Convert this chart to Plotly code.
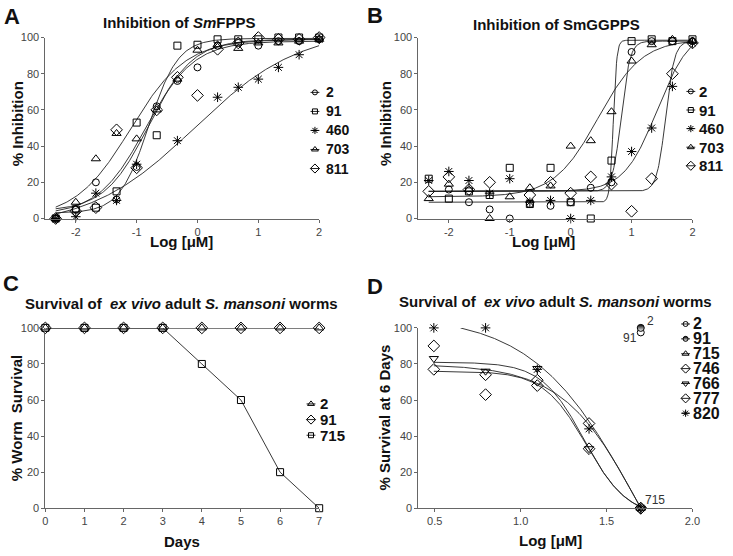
import numpy as np
import plotly.graph_objects as go

W, H = 733, 556
FONT = "Liberation Sans, Arial, sans-serif"

# ---------------- Panel A : Inhibition of SmFPPS ----------------
A_logconc = [-2.33, -2.0, -1.67, -1.33, -1.0, -0.67, -0.33, 0.0, 0.33, 0.67, 1.0, 1.33, 1.67, 2.0]
A_names = ["2", "91", "460", "703", "811"]
A_2 = [0, 5, 20, 10.5, 28.5, 62, 76, 83.5, 95.5, 97, 95.5, 98, 98, 99]
A_91 = [0, 5, 6, 15, 53, 46, 95.5, 96, 99, 99, 99, 100, 100, 100]
A_460 = [0, 1, 14, 10, 30, None, 43, None, 67, 72.5, 77, 83.5, 90.5, 99]
A_703 = [0, 9, 33, 47, 44, 60, 77, 93, 96, 94, 97, 97, 98, 99]
A_811 = [0, 4, 6, 49, 28, 60, 78, 68, 93.5, 97, 100, 99, 99, 100]
A_fit_bottom = [2, 3, -5, 0, 4]
A_fit_top = [98, 99.5, 105, 99, 99]
A_fit_logec50 = [-0.85, -0.8, -0.05, -1.1, -0.8]
A_fit_hill = [1.1, 1.8, 0.5, 0.95, 1.2]

# ---------------- Panel B : Inhibition of SmGGPPS ----------------
B_logconc = A_logconc
B_names = ["2", "91", "460", "703", "811"]
B_2 = [None, 16, 9, 5, 0, 8, 7, 9, 17, 20, 92, 98, 98, 98]
B_91 = [22, 11, 15, 13, 28, 8, 28, 9, 0, 32, 98, 99, 98, 99]
B_460 = [21, 26, 21, 14, 22, 9, 10, 0, 10, 23, 37, 50, 73, 97]
B_703 = [11, 19, 16, 0, 12, 17, 18, 40, 43, 59, 87, 96, 99, 98]
B_811 = [15, 23, 16, 20, None, 13, 20, 14, 23, 19, 4, 22, 80, 97]
B_fit_bottom = [15, 9, 15, 12, 15]
B_fit_top = [98, 98.5, 105, 99, 98]
B_fit_logec50 = [0.83, 0.7, 1.42, 0.45, 1.56]
B_fit_hill = [6, 15, 1.6, 1.2, 6]

# ---------------- Panel C : survival over days ----------------
C_days = [0, 1, 2, 3, 4, 5, 6, 7]
C_names = ["2", "91", "715"]
C_2 = [100, 100, 100, 100, 100, 100, 100, 100]
C_91 = [100, 100, 100, 100, 100, 100, 100, 100]
C_715 = [100, 100, 100, 100, 80, 60, 20, 0]

# ---------------- Panel D : survival at 6 days ----------------
D_logconc = [0.495, 0.796, 1.097, 1.398, 1.699]
D_names = ["2", "91", "715", "746", "766", "777", "820"]
D_2 = [None, None, None, None, 97.5]
D_91 = [None, None, None, None, 100]
D_715 = [None, None, None, None, 0]
D_746 = [90, 63, 71, 47, 0]
D_766 = [83, 76, 77.5, 33, 0]
D_777 = [77, 74, 68, 33, 0]
D_820 = [100, 100, 77, 44, 0]
D_fit_names = ["746", "766", "777", "820"]
D_fit_bottom = [-79.8, -5, -5, -107]
D_fit_top = [79.8, 81, 76, 107]
D_fit_logec50 = [1.7, 1.37, 1.38, 1.7]
D_fit_hill = [-1.91, -3.5, -3.5, -1.4]
D_fit_start = [0.495, 0.495, 0.495, 0.65]

# ---------------- styles ----------------
SYM_AB = {"2": "circle-open", "91": "square-open", "460": "asterisk-open",
          "703": "triangle-up-open", "811": "diamond-open"}
SYM_C = {"2": "triangle-up-open", "91": "diamond-open", "715": "square-open"}
SYM_D = {"2": "circle-open", "91": "circle", "715": "triangle-up-open",
         "746": "diamond-open", "766": "triangle-down-open", "777": "diamond-open",
         "820": "asterisk-open"}
SIZE = {"circle-open": 7, "circle": 7, "square-open": 7, "asterisk-open": 8,
        "triangle-up-open": 8, "triangle-down-open": 8, "diamond-open": 9}
LINE_COL = "#222"
AX_COL = "#666"


def marker_for(sym, size=None):
    m = dict(symbol=sym, size=size or SIZE[sym], color="black",
             line=dict(color="black", width=1))
    if sym == "circle":
        m["gradient"] = dict(type="vertical", color="white")
    return m


def logistic(x, bottom, top, logec50, hill):
    return bottom + (top - bottom) / (1 + 10 ** ((logec50 - x) * hill))


fig = go.Figure()

# Panel A
A_series = [A_2, A_91, A_460, A_703, A_811]
xa = np.linspace(A_logconc[0], A_logconc[-1], 300)
for i, name in enumerate(A_names):
    fig.add_trace(go.Scatter(x=xa, y=logistic(xa, A_fit_bottom[i], A_fit_top[i], A_fit_logec50[i], A_fit_hill[i]),
                             mode="lines", line=dict(color=LINE_COL, width=0.9),
                             xaxis="x", yaxis="y", showlegend=False, hoverinfo="skip"))
for i, name in enumerate(A_names):
    fig.add_trace(go.Scatter(x=A_logconc, y=A_series[i], mode="markers", marker=marker_for(SYM_AB[name]),
                             xaxis="x", yaxis="y", showlegend=False, cliponaxis=False, name=name))

# Panel B
B_series = [B_2, B_91, B_460, B_703, B_811]
xb = np.linspace(B_logconc[0], B_logconc[-1], 400)
for i, name in enumerate(B_names):
    fig.add_trace(go.Scatter(x=xb, y=logistic(xb, B_fit_bottom[i], B_fit_top[i], B_fit_logec50[i], B_fit_hill[i]),
                             mode="lines", line=dict(color=LINE_COL, width=0.9),
                             xaxis="x2", yaxis="y2", showlegend=False, hoverinfo="skip"))
for i, name in enumerate(B_names):
    fig.add_trace(go.Scatter(x=B_logconc, y=B_series[i], mode="markers", marker=marker_for(SYM_AB[name]),
                             xaxis="x2", yaxis="y2", showlegend=False, cliponaxis=False, name=name))

# Panel C
C_series = [C_2, C_91, C_715]
for i, name in enumerate(C_names):
    fig.add_trace(go.Scatter(x=C_days, y=C_series[i], mode="lines+markers",
                             line=dict(color=LINE_COL, width=0.9), marker=marker_for(SYM_C[name]),
                             xaxis="x3", yaxis="y3", showlegend=False, cliponaxis=False, name=name))

# Panel D
for i, name in enumerate(D_fit_names):
    xd = np.linspace(D_fit_start[i], D_logconc[-1], 300)
    fig.add_trace(go.Scatter(x=xd, y=logistic(xd, D_fit_bottom[i], D_fit_top[i], D_fit_logec50[i], D_fit_hill[i]),
                             mode="lines", line=dict(color=LINE_COL, width=0.9),
                             xaxis="x4", yaxis="y4", showlegend=False, hoverinfo="skip"))
D_series = [D_2, D_91, D_715, D_746, D_766, D_777, D_820]
for i, name in enumerate(D_names):
    fig.add_trace(go.Scatter(x=D_logconc, y=D_series[i], mode="markers", marker=marker_for(SYM_D[name]),
                             xaxis="x4", yaxis="y4", showlegend=False, cliponaxis=False, name=name))

# ---------------- legend keys (pixel overlay) ----------------
LEGENDS = [
    # names, symbols, symbol x, text x, first row y, row spacing, font size
    (A_names, SYM_AB, 316.7, 325.5, 88.3, 19.45, 14),
    (B_names, SYM_AB, 698.3, 704.5, 87.3, 19.0, 15),
    (C_names, SYM_C, 312.7, 319.5, 406.7, 16.0, 15),
    (D_names, SYM_D, 693.0, 698.5, 325.0, 15.2, 16),
]
annotations = []
for names, syms, sx, tx, y0, dy, fs in LEGENDS:
    for j, name in enumerate(names):
        sy = y0 + j * dy
        sym = syms[name]
        mk = marker_for(sym, size=max(SIZE[sym] - 2, 5))
        mk["opacity"] = [0, 1, 0]
        fig.add_trace(go.Scatter(x=[sx - 4.5, sx, sx + 4.5], y=[sy, sy, sy], mode="lines+markers",
                                 line=dict(color=LINE_COL, width=1), marker=mk,
                                 xaxis="x5", yaxis="y5", showlegend=False, hoverinfo="skip"))
        annotations.append(dict(text="<b>%s</b>" % name, x=tx / W, y=1 - sy / H, xref="paper", yref="paper",
                                xanchor="left", yanchor="middle", showarrow=False,
                                font=dict(family=FONT, size=fs, color="#111")))


def px(x, y):
    return x / W, 1 - y / H


def add_text(text, x, y, size, angle=0, color="#111", xanchor="center"):
    xx, yy = px(x, y)
    annotations.append(dict(text=text, x=xx, y=yy, xref="paper", yref="paper", xanchor=xanchor,
                            yanchor="middle", showarrow=False, textangle=angle,
                            font=dict(family=FONT, size=size, color=color)))


# panel letters
add_text("<b>A</b>", 9, 11, 22)
add_text("<b>B</b>", 377.5, 9.5, 22)
add_text("<b>C</b>", 8.5, 283.5, 22)
add_text("<b>D</b>", 377.5, 287, 22)
# titles
add_text("<b>Inhibition of <i>Sm</i>FPPS</b>", 179, 17, 15)
add_text("<b>Inhibition of SmGGPPS</b>", 561.5, 19, 15)
add_text("<b>Survival of  <i>ex vivo</i> adult <i>S. mansoni</i> worms</b>", 181.7, 304, 15)
add_text("<b>Survival of  <i>ex vivo</i> adult <i>S. mansoni</i> worms</b>", 561, 302.5, 15)
# axis titles
add_text("<b>Log [μM]</b>", 181, 241, 15)
add_text("<b>Log [μM]</b>", 549, 241, 15)
add_text("<b>Days</b>", 182, 547, 15)
add_text("<b>Log [μM]</b>", 556, 546, 15)
add_text("<b>% Inhibition</b>", 15, 120, 15, angle=-90)
add_text("<b>% Inhibition</b>", 388.5, 120, 15, angle=-90)
add_text("<b>% Worm  Survival</b>", 14.5, 421, 15, angle=-90)
add_text("<b>% Survival at 6 Days</b>", 387.5, 421, 15, angle=-90)

# point labels in panel D
annotations.append(dict(text="2", x=D_logconc[4], y=D_91[4], xref="x4", yref="y4", xanchor="left",
                        yanchor="middle", xshift=4, yshift=7, showarrow=False,
                        font=dict(family=FONT, size=12, color="#333")))
annotations.append(dict(text="91", x=D_logconc[4], y=D_2[4], xref="x4", yref="y4", xanchor="right",
                        yanchor="middle", xshift=-2, yshift=-6, showarrow=False,
                        font=dict(family=FONT, size=12, color="#333")))
annotations.append(dict(text="715", x=D_logconc[4], y=D_715[4], xref="x4", yref="y4", xanchor="left",
                        yanchor="middle", xshift=2, yshift=8, showarrow=False,
                        font=dict(family=FONT, size=12, color="#333")))


def axis(domain, rng, tickvals, ticktext=None, anchor=None):
    d = dict(domain=domain, range=rng, tickvals=tickvals, showline=True, linecolor=AX_COL, linewidth=1,
             ticks="outside", ticklen=3, tickwidth=1, tickcolor=AX_COL, showgrid=False, zeroline=False,
             tickfont=dict(family=FONT, size=11, color="#444"), anchor=anchor, fixedrange=True)
    if ticktext is not None:
        d["ticktext"] = ticktext
    return d


xA = [43 / W, 321 / W]
xB = [421.7 / W, 700 / W]
yTop = [1 - 217.2 / H, 1 - 32.2 / H]
yBot = [1 - 513.3 / H, 1 - 329 / H]
x_ticks_AB = [-2, -1, 0, 1, 2]
y_ticks = [0, 20, 40, 60, 80, 100]

fig.update_layout(
    width=W, height=H, margin=dict(l=0, r=0, t=0, b=0), autosize=False,
    paper_bgcolor="white", plot_bgcolor="rgba(0,0,0,0)", showlegend=False,
    font=dict(family=FONT),
    xaxis=axis(xA, [-2.5, 2], x_ticks_AB, [str(v) for v in x_ticks_AB], "y"),
    yaxis=axis(yTop, [0, 100], y_ticks, anchor="x"),
    xaxis2=axis(xB, [-2.5, 2], x_ticks_AB, [str(v) for v in x_ticks_AB], "y2"),
    yaxis2=axis(yTop, [0, 100], y_ticks, anchor="x2"),
    xaxis3=axis(xA, [0, 7], C_days, anchor="y3"),
    yaxis3=axis(yBot, [0, 100], y_ticks, anchor="x3"),
    xaxis4=axis(xB, [0.405, 2.0], [0.5, 1.0, 1.5, 2.0], ["0.5", "1.0", "1.5", "2.0"], "y4"),
    yaxis4=axis(yBot, [0, 100], y_ticks, anchor="x4"),
    xaxis5=dict(domain=[0, 1], range=[0, W], visible=False, anchor="y5", fixedrange=True),
    yaxis5=dict(domain=[0, 1], range=[H, 0], visible=False, anchor="x5", fixedrange=True),
    annotations=annotations,
)

fig.write_html("out.html", config={"displayModeBar": False},
               post_script="document.body.style.margin='0px';document.body.style.padding='0px';"
                           "document.body.style.overflow='hidden';")
